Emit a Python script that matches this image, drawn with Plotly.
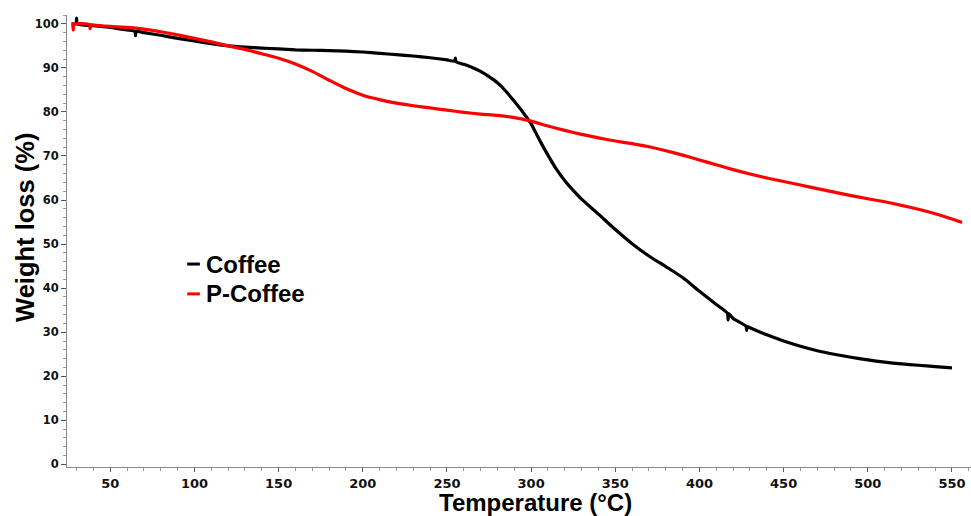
import plotly.graph_objects as go

# ---- data ----
series_names = ["Coffee", "P-Coffee"]
series_colors = ["#000000", "#ff0000"]

coffee_temp = [27, 29.6, 30, 30.4, 40, 50, 60, 64.6, 65, 65.4, 70, 80, 90, 100, 110, 120, 130, 140,
               150, 160, 170, 180, 190, 200, 210, 220, 230, 240, 250, 254.6, 255, 255.4, 260, 265,
               270, 275, 280, 285, 290, 295, 300, 305, 310, 315, 320, 325, 330, 340, 350, 360, 370,
               380, 390, 400, 410, 416.6, 417, 417.4, 420, 427.6, 428, 428.4, 430, 440, 450, 460,
               470, 480, 490, 500, 510, 520, 530, 540, 550]
coffee_weight = [100.0, 100.0, 101.3, 100.0, 99.6, 99.2, 98.6, 98.3, 97.3, 98.3, 98.0, 97.4, 96.7,
                 96.1, 95.5, 95.0, 94.7, 94.5, 94.3, 94.1, 94.0, 93.9, 93.8, 93.6, 93.3, 93.0, 92.7,
                 92.3, 91.8, 91.5, 92.2, 91.4, 90.8, 90.1, 89.2, 88.0, 86.6, 84.7, 82.4, 80.0, 77.3,
                 73.6, 70.2, 67.0, 64.4, 62.2, 60.2, 56.8, 53.3, 50.1, 47.3, 44.9, 42.4, 39.3, 36.3,
                 34.3, 32.8, 34.2, 33.1, 31.4, 30.4, 31.3, 31.0, 29.4, 28.0, 26.8, 25.8, 25.0, 24.3,
                 23.7, 23.2, 22.8, 22.5, 22.2, 21.9]

pcoffee_temp = [27, 27.6, 28, 28.4, 37.6, 38, 38.4, 40, 50, 60, 70, 80, 90, 100, 110, 120, 130, 140,
                150, 160, 170, 180, 190, 200, 210, 220, 230, 240, 250, 260, 270, 280, 290, 300, 310,
                320, 330, 340, 350, 360, 370, 380, 390, 400, 410, 420, 430, 440, 450, 460, 470, 480,
                490, 500, 510, 520, 530, 540, 550, 556]
pcoffee_weight = [100.0, 100.0, 98.6, 99.9, 99.8, 98.9, 99.8, 99.7, 99.4, 99.2, 98.8, 98.2, 97.5,
                  96.7, 95.9, 95.0, 94.2, 93.2, 92.2, 90.9, 89.2, 87.2, 85.3, 83.8, 82.8, 82.0,
                  81.4, 80.9, 80.4, 79.9, 79.5, 79.2, 78.7, 77.9, 76.8, 75.8, 74.9, 74.1, 73.4,
                  72.8, 72.1, 71.2, 70.2, 69.1, 68.0, 66.9, 65.9, 65.0, 64.2, 63.4, 62.6, 61.8,
                  61.0, 60.3, 59.6, 58.8, 57.9, 56.9, 55.7, 54.9]

x_title = "Temperature (°C)"
y_title = "Weight loss (%)"

SANS_BOLD = "Liberation Sans, Arial, sans-serif"
TICK_FONT_X = dict(family="DejaVu Sans, Verdana, sans-serif", size=13, color="#111111")
TICK_FONT_Y = dict(family="DejaVu Sans, Verdana, sans-serif", size=11.5, color="#111111")

fig = go.Figure()
fig.add_trace(go.Scatter(x=coffee_temp, y=coffee_weight, mode="lines", name=series_names[0],
                         line=dict(color=series_colors[0], width=3.2, shape="spline", smoothing=0.6),
                         showlegend=False))
fig.add_trace(go.Scatter(x=pcoffee_temp, y=pcoffee_weight, mode="lines", name=series_names[1],
                         line=dict(color=series_colors[1], width=3.2, shape="spline", smoothing=0.6),
                         showlegend=False))

# legend drawn as short line segments + bold labels (as in the reference)
legend_y = [0.449, 0.383]
for name, color, ly in zip(series_names, series_colors, legend_y):
    fig.add_shape(type="line", xref="paper", yref="paper", x0=0.133, x1=0.147, y0=ly, y1=ly,
                  line=dict(color=color, width=3))
    fig.add_annotation(text="<b>%s</b>" % name, xref="paper", yref="paper", x=0.152, y=ly,
                       xanchor="left", yanchor="middle", showarrow=False,
                       font=dict(family=SANS_BOLD, size=24, color="#000000"))

# axis titles placed as in the reference
fig.add_annotation(text="<b>%s</b>" % x_title, xref="paper", yref="paper", x=0.518, y=-0.079,
                   xanchor="center", yanchor="middle", showarrow=False,
                   font=dict(family=SANS_BOLD, size=24, color="#000000"))
fig.add_annotation(text="<b>%s</b>" % y_title, xref="paper", yref="paper", x=-0.0465, y=0.531,
                   xanchor="center", yanchor="middle", showarrow=False, textangle=-90,
                   font=dict(family=SANS_BOLD, size=25.5, color="#000000"))

fig.update_layout(
    width=971, height=516,
    margin=dict(l=67, r=0, t=15, b=49, autoexpand=False),
    paper_bgcolor="white", plot_bgcolor="white",
    showlegend=False,
)
fig.update_xaxes(
    range=[24.3, 561.3], dtick=50, tick0=0, automargin=False,
    showgrid=False, zeroline=False, showline=True, linecolor="#8a8a8a", linewidth=1,
    ticks="outside", ticklen=4, tickcolor="#555555", tickwidth=1,
    minor=dict(dtick=10, tick0=0, ticks="outside", ticklen=3, tickcolor="#999999", showgrid=False),
    tickfont=TICK_FONT_X, tickprefix="<b>", ticksuffix="</b>",
)
fig.update_yaxes(
    range=[-0.6, 102], dtick=10, tick0=0, automargin=False,
    showgrid=False, zeroline=False, showline=True, linecolor="#8a8a8a", linewidth=1,
    ticks="outside", ticklen=5, tickcolor="#555555", tickwidth=1,
    minor=dict(dtick=2, tick0=0, ticks="outside", ticklen=3, tickcolor="#999999", showgrid=False),
    tickfont=TICK_FONT_Y, tickprefix="<b>", ticksuffix="</b>",
)

fig.write_html("out.html", config={"displayModeBar": False},
               post_script="document.body.style.margin='0';")
